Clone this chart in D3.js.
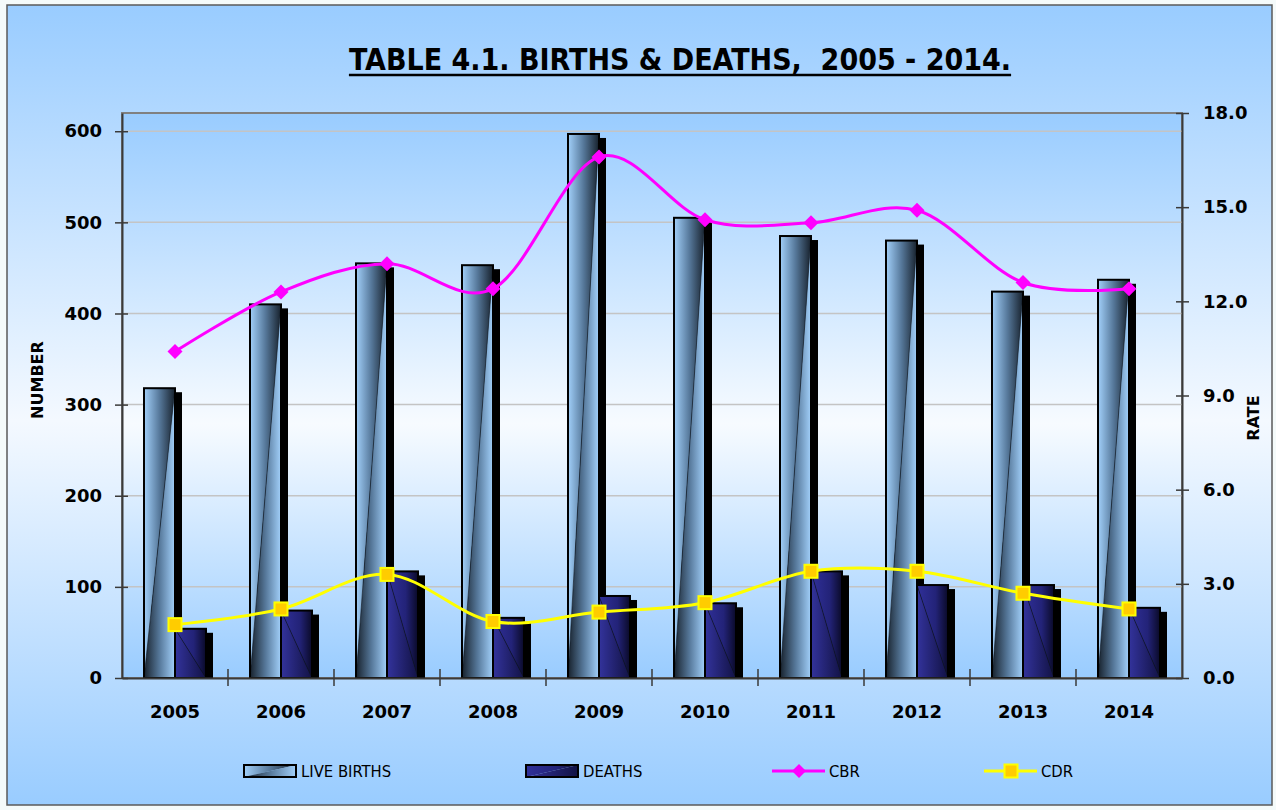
<!DOCTYPE html>
<html>
<head>
<meta charset="utf-8">
<script src="https://cdn.jsdelivr.net/npm/d3@7"></script>
<style>
  body { margin: 0; background: #f4fafa; }
  svg { display: block; }
  text { font-family: "DejaVu Sans", Verdana, sans-serif; }
</style>
</head>
<body>
<script>
// chart data
var years = ["2005", "2006", "2007", "2008", "2009", "2010", "2011", "2012", "2013", "2014"];
var liveBirths = [318, 410, 455, 453, 597, 505, 485, 480, 424, 437];
var deaths = [54, 74, 117, 66, 90, 82, 117, 102, 102, 77];
var cbr = [10.4, 12.3, 13.2, 12.4, 16.6, 14.6, 14.5, 14.9, 12.6, 12.4];
var cdr = [1.7, 2.2, 3.3, 1.8, 2.1, 2.4, 3.4, 3.4, 2.7, 2.2];
var leftTicks = [0, 100, 200, 300, 400, 500, 600];
var rightTicks = [0, 3, 6, 9, 12, 15, 18];
var legendNames = ["LIVE BIRTHS", "DEATHS", "CBR", "CDR"];

var W = 1276, H = 810;
var plot = { left: 122, top: 113, right: 1182, bottom: 678 };

var svg = d3.select("body").append("svg")
	.attr("width", W)
	.attr("height", H);

var defs = svg.append("defs");

function grad(id, x1, y1, x2, y2, stops) {
	var g = defs.append("linearGradient").attr("id", id)
		.attr("x1", x1).attr("y1", y1).attr("x2", x2).attr("y2", y2);
	stops.forEach(function(s) {
		g.append("stop").attr("offset", s[0]).attr("stop-color", s[1]);
	});
}

// backgrounds
grad("bgOuter", 0, 0, 0, 1, [[0, "#99ccff"], [0.52, "#f4f9ff"], [1, "#99ccff"]]);
grad("bgPlot", 0, 0, 0, 1, [[0, "#99ccff"], [0.55, "#f7fbff"], [1, "#99ccff"]]);
// live births front: two halves split on the diagonal
grad("lbA", 0, 0, 1, 0, [[0, "#a2d0fa"], [0.5, "#56789a"], [1, "#17212c"]]);
grad("lbB", 0, 0, 1, 0, [[0, "#17212c"], [0.5, "#56789a"], [1, "#a2d0fa"]]);
// deaths front
grad("dA", 0, 0, 1, 0, [[0, "#33339c"], [1, "#121244"]]);
grad("dB", 0, 0, 1, 0, [[0, "#30309a"], [0.6, "#232378"], [1, "#0a0a28"]]);

svg.append("rect")
	.attr("x", 7).attr("y", 5)
	.attr("width", 1265).attr("height", 800)
	.attr("fill", "url(#bgOuter)")
	.attr("stroke", "#5a5a5a").attr("stroke-width", 1.5);

svg.append("rect")
	.attr("x", plot.left).attr("y", plot.top)
	.attr("width", plot.right - plot.left).attr("height", plot.bottom - plot.top)
	.attr("fill", "url(#bgPlot)")
	.attr("stroke", "#808080").attr("stroke-width", 2);

// scales
var x = d3.scaleBand().domain(years).range([plot.left, plot.right]).padding(0);
var barW = 31;
var sub = d3.scaleBand().domain(["births", "deaths"])
	.range([x.bandwidth() / 2 - barW, x.bandwidth() / 2 + barW]);
var yL = d3.scaleLinear().domain([0, 620]).range([plot.bottom, plot.top]);
var yR = d3.scaleLinear().domain([0, 18]).range([plot.bottom, plot.top]);

// gridlines
svg.append("g").selectAll("line")
	.data(leftTicks.slice(1))
	.enter().append("line")
	.attr("x1", plot.left).attr("x2", plot.right)
	.attr("y1", function(d) { return yL(d); })
	.attr("y2", function(d) { return yL(d); })
	.attr("stroke", "#c4c4c4").attr("stroke-width", 1.5);

// bars
var rows = years.map(function(y, i) {
	return { year: y, births: liveBirths[i], deaths: deaths[i] };
});

var groups = svg.append("g").selectAll("g")
	.data(rows)
	.enter().append("g")
	.attr("transform", function(d) { return "translate(" + x(d.year) + ",0)"; });

function drawBar(g, key, fills, diagDown) {
	g.each(function(d) {
		var sel = d3.select(this);
		var x0 = sub(key), x1 = x0 + sub.bandwidth();
		var yT = key == "births" ? yL(d.births) : yL(d.deaths);
		var yB = yL(0);
		// side / shadow
		sel.append("rect")
			.attr("x", x0 + 7).attr("y", yT + 4)
			.attr("width", x1 - x0).attr("height", yB - yT - 4)
			.attr("fill", "#000");
		var p1, p2;
		if (diagDown) {
			p1 = [[x0, yT], [x1, yT], [x1, yB]];
			p2 = [[x0, yT], [x1, yB], [x0, yB]];
		} else {
			p1 = [[x0, yT], [x1, yT], [x0, yB]];
			p2 = [[x1, yT], [x1, yB], [x0, yB]];
		}
		sel.append("path").attr("d", "M" + p1.join("L") + "Z").attr("fill", fills[0]);
		sel.append("path").attr("d", "M" + p2.join("L") + "Z").attr("fill", fills[1]);
		sel.append("line")
			.attr("x1", p1[diagDown ? 0 : 1][0]).attr("y1", yT)
			.attr("x2", diagDown ? x1 : x0).attr("y2", yB)
			.attr("stroke", "#0e1620").attr("stroke-width", 1).attr("opacity", 0.6);
		sel.append("rect")
			.attr("x", x0).attr("y", yT)
			.attr("width", x1 - x0).attr("height", yB - yT)
			.attr("fill", "none").attr("stroke", "#000").attr("stroke-width", 2);
	});
}

drawBar(groups, "births", ["url(#lbA)", "url(#lbB)"], false);
drawBar(groups, "deaths", ["url(#dB)", "url(#dA)"], true);

// axes
var axL = svg.append("g")
	.attr("transform", "translate(" + plot.left + ",0)")
	.call(d3.axisLeft(yL).tickValues(leftTicks).tickFormat(d3.format("d")).tickSizeOuter(0));
axL.selectAll(".tick line").attr("x1", 6).attr("x2", -7);
axL.selectAll(".tick text").attr("x", -20);

var axR = svg.append("g")
	.attr("transform", "translate(" + plot.right + ",0)")
	.call(d3.axisRight(yR).tickValues(rightTicks).tickFormat(d3.format(".1f")).tickSizeOuter(0));
axR.selectAll(".tick line").attr("x1", -6).attr("x2", 7);
axR.selectAll(".tick text").attr("x", 21);

var axB = svg.append("g")
	.attr("transform", "translate(0," + plot.bottom + ")")
	.call(d3.axisBottom(x).tickSize(0).tickSizeOuter(0));
axB.selectAll(".tick text").attr("y", 27);
axB.selectAll(".bnd")
	.data(years.slice(1))
	.enter().append("line")
	.attr("class", "bnd")
	.attr("x1", function(d) { return x(d); })
	.attr("x2", function(d) { return x(d); })
	.attr("y1", -9).attr("y2", 8);

[axL, axR, axB].forEach(function(a) {
	a.select(".domain").attr("stroke", "#3a3a3a").attr("stroke-width", 2);
	a.selectAll("line").attr("stroke", "#3a3a3a").attr("stroke-width", 1.5);
	a.selectAll("text")
		.style("font-family", "'DejaVu Sans', sans-serif")
		.style("font-size", "18px")
		.style("font-weight", "bold")
		.attr("fill", "#000");
});

// rate lines
var line = d3.line()
	.x(function(d, i) { return x(years[i]) + x.bandwidth() / 2; })
	.y(function(d) { return yR(d); })
	.curve(d3.curveCardinal);

svg.append("path")
	.datum(cbr)
	.attr("d", line)
	.attr("fill", "none").attr("stroke", "#ff00ff").attr("stroke-width", 3);

svg.append("path")
	.datum(cdr)
	.attr("d", line)
	.attr("fill", "none").attr("stroke", "#ffff00").attr("stroke-width", 3);

function diamondPath(s) {
	return "M0," + (-s) + "L" + s + ",0L0," + s + "L" + (-s) + ",0Z";
}

svg.append("g").selectAll("path")
	.data(cbr)
	.enter().append("path")
	.attr("d", diamondPath(7.5))
	.attr("transform", function(d, i) {
		return "translate(" + (x(years[i]) + x.bandwidth() / 2) + "," + yR(d) + ")";
	})
	.attr("fill", "#ff00ff");

svg.append("g").selectAll("rect")
	.data(cdr)
	.enter().append("rect")
	.attr("x", function(d, i) { return x(years[i]) + x.bandwidth() / 2 - 6.5; })
	.attr("y", function(d) { return yR(d) - 6.5; })
	.attr("width", 13).attr("height", 13)
	.attr("fill", "#ffcc00")
	.attr("stroke", "#ffff00").attr("stroke-width", 2);

// title
var title = svg.append("text")
	.attr("x", 680).attr("y", 70)
	.attr("text-anchor", "middle")
	.style("font-family", "'DejaVu Sans Condensed', 'DejaVu Sans', sans-serif")
	.style("font-size", "30px")
	.style("font-weight", "bold")
	.style("white-space", "pre")
	.text("TABLE 4.1. BIRTHS & DEATHS,  2005 - 2014.");
var tw = title.node().getComputedTextLength();
svg.append("line")
	.attr("x1", 680 - tw / 2).attr("x2", 680 + tw / 2)
	.attr("y1", 75).attr("y2", 75)
	.attr("stroke", "#000").attr("stroke-width", 2.5);

// axis titles
svg.append("text")
	.attr("transform", "translate(43,380) rotate(-90)")
	.attr("text-anchor", "middle")
	.style("font-size", "16px").style("font-weight", "bold")
	.text("NUMBER");

svg.append("text")
	.attr("transform", "translate(1259,418) rotate(-90)")
	.attr("text-anchor", "middle")
	.style("font-size", "16px").style("font-weight", "bold")
	.text("RATE");

// legend
var legendX = [244, 526, 772, 984];
var ly = 771;
var leg = svg.append("g").selectAll("g")
	.data(legendNames)
	.enter().append("g")
	.attr("transform", function(d, i) { return "translate(" + legendX[i] + "," + ly + ")"; });

leg.each(function(d, i) {
	var g = d3.select(this);
	if (i < 2) {
		var fills = i == 0 ? ["url(#lbA)", "url(#lbB)"] : ["url(#dB)", "url(#dA)"];
		g.append("path").attr("d", "M0,-6L52,-6L0,6Z").attr("fill", fills[0]);
		g.append("path").attr("d", "M52,-6L52,6L0,6Z").attr("fill", fills[1]);
		g.append("rect").attr("x", 0).attr("y", -6).attr("width", 52).attr("height", 12)
			.attr("fill", "none").attr("stroke", "#000").attr("stroke-width", 2);
	} else {
		var col = i == 2 ? "#ff00ff" : "#ffff00";
		g.append("line").attr("x1", 0).attr("x2", 53).attr("y1", 0).attr("y2", 0)
			.attr("stroke", col).attr("stroke-width", 3);
		if (i == 2) {
			g.append("path").attr("d", diamondPath(7)).attr("transform", "translate(27,0)")
				.attr("fill", "#ff00ff");
		} else {
			g.append("rect").attr("x", 20.5).attr("y", -6.5).attr("width", 13).attr("height", 13)
				.attr("fill", "#ffcc00").attr("stroke", "#ffff00").attr("stroke-width", 2);
		}
	}
	g.append("text")
		.attr("x", 57)
		.attr("dy", "0.36em")
		.style("font-family", "'DejaVu Sans Condensed', sans-serif")
		.style("font-size", "16.5px")
		.text(d);
});
</script>
</body>
</html>
